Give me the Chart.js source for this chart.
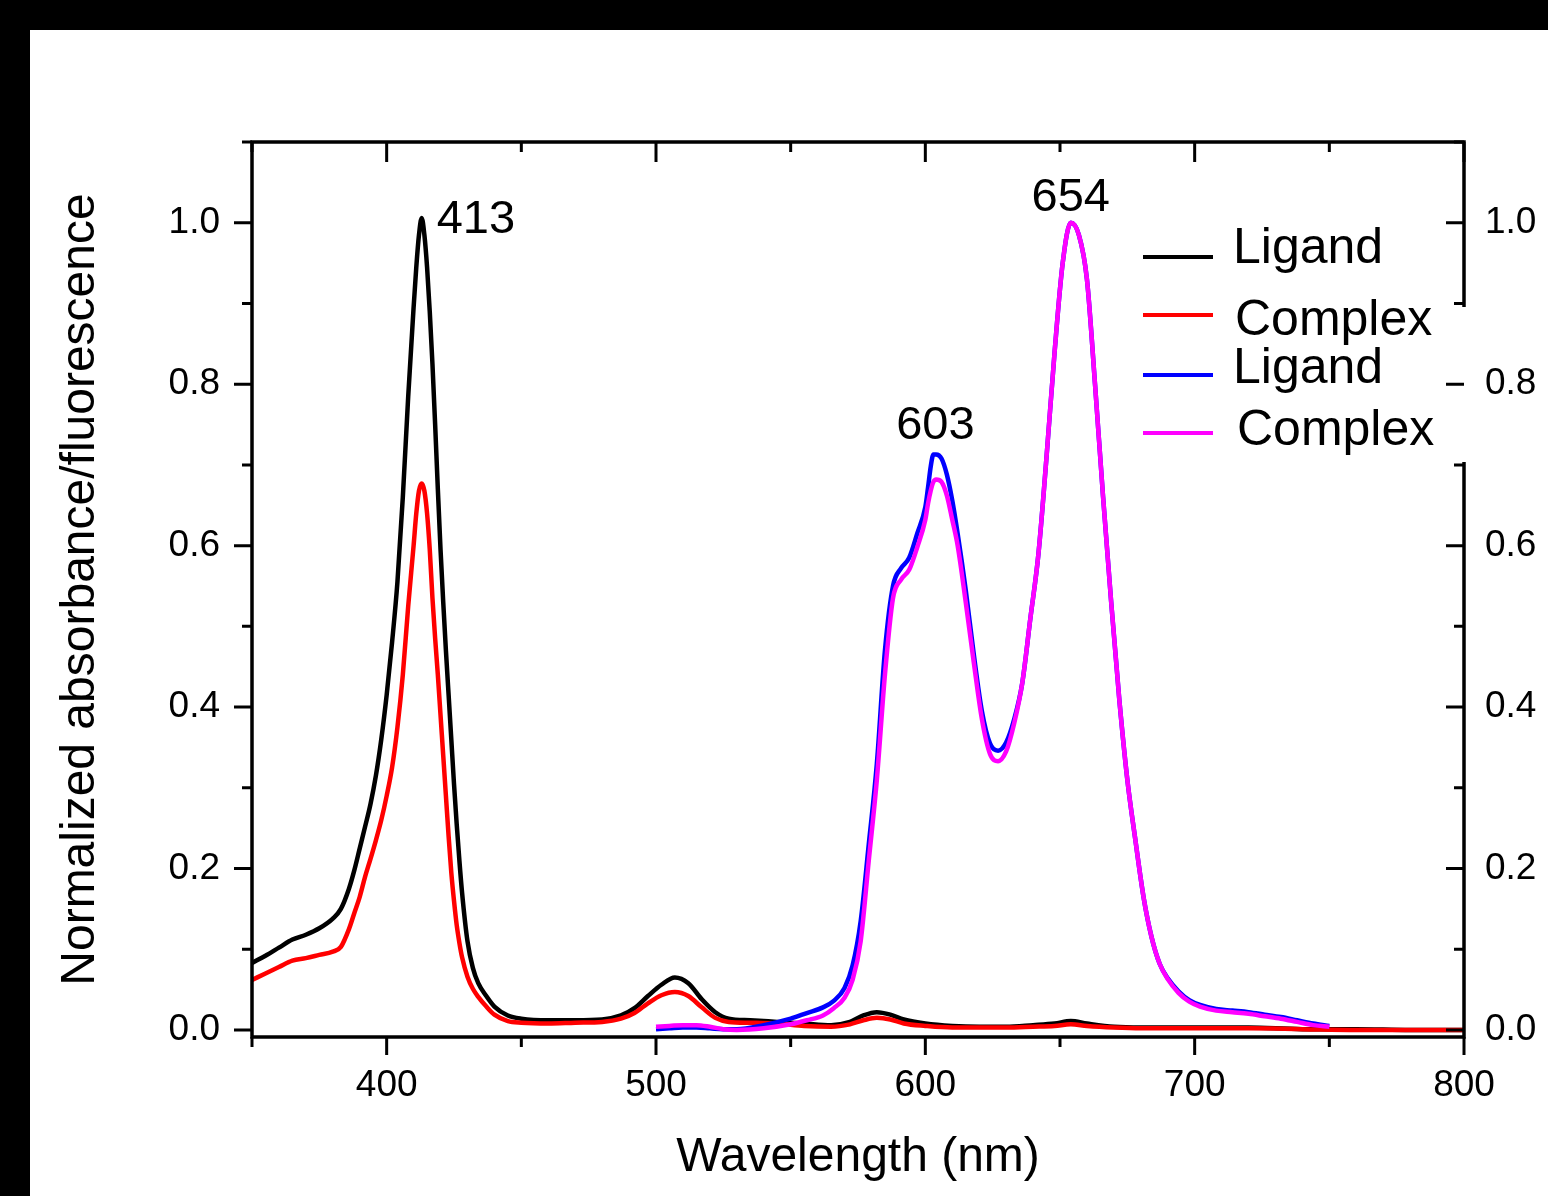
<!DOCTYPE html>
<html>
<head>
<meta charset="utf-8">
<title>Normalized absorbance / fluorescence</title>
<script src="https://cdn.jsdelivr.net/npm/chart.js@4.4.1/dist/chart.umd.min.js"></script>
<style>
  html, body { margin: 0; padding: 0; background: #000; }
  #wrap { position: absolute; left: 30px; top: 30px; width: 1518px; height: 1166px; background: #fff; }
  canvas { display: block; }
</style>
</head>
<body>
<div id="wrap"><canvas id="spectra" width="1518" height="1166"></canvas></div>
<script>
// Absorbance spectra (nm)
const absNm = [350, 355, 360, 365, 370, 375, 380, 383, 386, 388, 390, 392, 394, 396, 398, 400, 402, 404, 406, 408,
  410, 411, 412, 413, 414, 415, 416, 417, 418, 419, 420, 421, 422, 423, 424, 425, 426, 427, 428, 430,
  432, 434, 437, 440, 445, 450, 460, 470, 480, 487, 492, 497, 502, 507, 512, 517, 522, 527, 535, 545,
  555, 565, 572, 577, 582, 587, 592, 600, 610, 620, 630, 640, 648, 654, 660, 670, 680, 700, 720, 740,
  760, 780, 800];
const ligandAbs = [0.083, 0.092, 0.102, 0.112, 0.118, 0.126, 0.138, 0.150, 0.175, 0.198, 0.225, 0.252, 0.28, 0.315, 0.36, 0.415, 0.48, 0.555, 0.66, 0.785,
  0.895, 0.945, 0.985, 1.006, 0.985, 0.945, 0.89, 0.825, 0.75, 0.67, 0.595, 0.53, 0.47, 0.415, 0.36, 0.305, 0.255, 0.21, 0.17, 0.11,
  0.077, 0.058, 0.042, 0.029, 0.018, 0.014, 0.012, 0.012, 0.013, 0.018, 0.027, 0.042, 0.056, 0.065, 0.058, 0.038, 0.022, 0.014, 0.012, 0.010,
  0.008, 0.006, 0.010, 0.018, 0.022, 0.019, 0.013, 0.008, 0.005, 0.004, 0.004, 0.006, 0.008, 0.011, 0.008, 0.004, 0.003, 0.003, 0.003, 0.001,
  0.001, 0.0, 0.0];
const complexAbs = [0.062, 0.070, 0.078, 0.086, 0.089, 0.093, 0.097, 0.103, 0.125, 0.145, 0.165, 0.19, 0.212, 0.235, 0.26, 0.29, 0.325, 0.375, 0.44, 0.525,
  0.60, 0.64, 0.668, 0.677, 0.668, 0.64, 0.595, 0.535, 0.485, 0.44, 0.39, 0.34, 0.29, 0.24, 0.195, 0.16, 0.13, 0.108, 0.09, 0.066,
  0.051, 0.041, 0.029, 0.019, 0.011, 0.009, 0.008, 0.009, 0.010, 0.014, 0.021, 0.033, 0.043, 0.047, 0.042, 0.028, 0.015, 0.010, 0.009, 0.008,
  0.005, 0.004, 0.007, 0.012, 0.015, 0.013, 0.008, 0.005, 0.003, 0.003, 0.003, 0.004, 0.005, 0.007, 0.005, 0.003, 0.002, 0.002, 0.002, 0.001,
  0.0, 0.0, 0.0];

// Fluorescence spectra (nm)
const emNm = [500, 505, 510, 515, 520, 525, 530, 540, 550, 556, 562, 566, 570, 573, 576, 579, 582, 585, 588, 591,
  594, 597, 600, 601, 602, 603, 604, 606, 608, 610, 612, 615, 618, 621, 624, 627, 630, 633, 636, 639,
  642, 645, 648, 651, 654, 657, 660, 663, 666, 669, 672, 675, 678, 681, 684, 687, 690, 694, 698, 702,
  708, 714, 720, 726, 732, 738, 744, 750];
const ligandEm = [0.001, 0.002, 0.003, 0.003, 0.002, 0.001, 0.001, 0.006, 0.014, 0.021, 0.028, 0.036, 0.052, 0.08, 0.135, 0.23, 0.33, 0.47, 0.55, 0.572,
  0.585, 0.615, 0.648, 0.672, 0.698, 0.713, 0.713, 0.708, 0.688, 0.656, 0.615, 0.545, 0.465, 0.395, 0.355, 0.346, 0.356, 0.385, 0.43, 0.51,
  0.59, 0.71, 0.84, 0.95, 1.0, 0.985, 0.93, 0.80, 0.66, 0.53, 0.41, 0.31, 0.235, 0.165, 0.115, 0.082, 0.064, 0.048, 0.037, 0.031,
  0.026, 0.024, 0.022, 0.019, 0.016, 0.012, 0.008, 0.005];
const complexEm = [0.004, 0.005, 0.006, 0.006, 0.004, 0.001, 0.0, 0.002, 0.007, 0.012, 0.018, 0.027, 0.040, 0.062, 0.11, 0.21, 0.31, 0.44, 0.535, 0.558,
  0.570, 0.598, 0.632, 0.652, 0.668, 0.679, 0.682, 0.679, 0.662, 0.632, 0.60, 0.53, 0.455, 0.385, 0.342, 0.333, 0.345, 0.38, 0.43, 0.51,
  0.59, 0.71, 0.84, 0.95, 1.0, 0.985, 0.93, 0.80, 0.66, 0.53, 0.41, 0.31, 0.235, 0.165, 0.115, 0.082, 0.063, 0.046, 0.035, 0.029,
  0.024, 0.022, 0.020, 0.017, 0.014, 0.010, 0.006, 0.004];

const seriesLabels = ['Ligand', 'Complex', 'Ligand', 'Complex'];
const seriesColors = ['#000000', '#ff0000', '#0000ff', '#ff00ff'];
const xTicks = [400, 500, 600, 700, 800];
const yTicks = [0.0, 0.2, 0.4, 0.6, 0.8, 1.0];
const peakNm = [413, 603, 654];

const FONT = "'Liberation Sans', Arial, sans-serif";

const toPoints = (xs, ys) => xs.map((x, i) => ({ x: x, y: ys[i] }));

const series = [
  toPoints(absNm, ligandAbs),
  toPoints(absNm, complexAbs),
  toPoints(emNm, ligandEm),
  toPoints(emNm, complexEm)
];

// peak labels: which curve each one sits on, and text offset in px
const peakPlacement = [
  { ds: 0, dx: 15, dy: 15, align: 'left' },
  { ds: 2, dx: 2, dy: -15, align: 'center' },
  { ds: 3, dx: 0, dy: -12, align: 'center' }
];

const frameAndNotes = {
  id: 'frameAndNotes',
  afterDraw(chart) {
    const { ctx, chartArea: a, scales } = chart;
    const x = scales.x, y = scales.y;
    ctx.save();
    ctx.strokeStyle = '#000';
    ctx.lineWidth = 3.5;
    ctx.strokeRect(a.left, a.top, a.right - a.left, a.bottom - a.top);

    // legend background hides part of the right frame
    ctx.fillStyle = '#fff';
    ctx.fillRect(1108, 277, 332, 155);

    // tick marks: left/bottom outward, top/right inward
    ctx.lineWidth = 3;
    ctx.beginPath();
    for (let v = 350; v <= 800; v += 50) {
      const px = x.getPixelForValue(v);
      const major = v % 100 === 0;
      ctx.moveTo(px, a.bottom);
      ctx.lineTo(px, a.bottom + (major ? 18 : 10));
      ctx.moveTo(px, a.top);
      ctx.lineTo(px, a.top + (major ? 20 : 10));
    }
    for (let i = 0; i <= 11; i++) {
      const py = y.getPixelForValue(i / 10);
      const major = i % 2 === 0;
      ctx.moveTo(a.left - (major ? 18 : 10), py);
      ctx.lineTo(a.left, py);
      ctx.moveTo(a.right - (major ? 18 : 10), py);
      ctx.lineTo(a.right, py);
    }
    ctx.stroke();

    // legend
    const lineY = [227, 285, 345, 403];
    const textY = [233, 305, 353, 415];
    const textX = [1203, 1205, 1203, 1207];
    ctx.font = '50px ' + FONT;
    ctx.textAlign = 'left';
    ctx.textBaseline = 'alphabetic';
    chart.data.datasets.forEach((ds, i) => {
      ctx.strokeStyle = ds.borderColor;
      ctx.lineWidth = 4;
      ctx.beginPath();
      ctx.moveTo(1113, lineY[i]);
      ctx.lineTo(1183, lineY[i]);
      ctx.stroke();
      ctx.fillStyle = '#000';
      ctx.fillText(ds.label, textX[i], textY[i]);
    });

    // peak wavelengths
    ctx.font = '47px ' + FONT;
    ctx.fillStyle = '#000';
    peakNm.forEach((nm, i) => {
      const p = peakPlacement[i];
      const pt = chart.data.datasets[p.ds].data.find(d => d.x === nm);
      ctx.textAlign = p.align;
      ctx.fillText(String(nm), x.getPixelForValue(nm) + p.dx, y.getPixelForValue(pt.y) + p.dy);
    });
    ctx.restore();
  }
};

const tickFont = { family: FONT, size: 37 };
const titleFont = { family: FONT, size: 48 };

new Chart(document.getElementById('spectra'), {
  type: 'line',
  data: {
    datasets: series.map((pts, i) => ({
      label: seriesLabels[i],
      data: pts,
      borderColor: seriesColors[i],
      backgroundColor: seriesColors[i],
      borderWidth: 4.5,
      pointRadius: 0,
      fill: false,
      cubicInterpolationMode: 'monotone',
      order: 3 - i
    }))
  },
  options: {
    responsive: false,
    animation: false,
    events: [],
    layout: { padding: { top: 112, left: 0, right: 0, bottom: 0 } },
    plugins: { legend: { display: false }, tooltip: { enabled: false } },
    scales: {
      x: {
        type: 'linear',
        position: 'bottom',
        min: 350,
        max: 800,
        afterFit: s => { s.height = 159; },
        afterBuildTicks: s => { s.ticks = xTicks.map(v => ({ value: v })); },
        grid: { display: false, drawTicks: false },
        border: { display: false },
        ticks: { padding: 27, font: tickFont, color: '#000', maxRotation: 0, autoSkip: false, callback: v => String(v) },
        title: { display: true, text: 'Wavelength (nm)', font: titleFont, color: '#000', padding: { top: 0, bottom: 9 } }
      },
      y: {
        type: 'linear',
        position: 'left',
        min: -0.0087,
        max: 1.1,
        afterFit: s => { s.width = 222; },
        afterBuildTicks: s => { s.ticks = yTicks.map(v => ({ value: v })); },
        grid: { display: false, drawTicks: false },
        border: { display: false },
        ticks: { padding: 32, font: tickFont, color: '#000', callback: v => v.toFixed(1) },
        title: { display: true, text: 'Normalized absorbance/fluorescence', font: titleFont, color: '#000', padding: { top: 22, bottom: 0 } }
      },
      y2: {
        type: 'linear',
        position: 'right',
        min: -0.0087,
        max: 1.1,
        afterFit: s => { s.width = 84; },
        afterBuildTicks: s => { s.ticks = yTicks.map(v => ({ value: v })); },
        grid: { display: false, drawTicks: false },
        border: { display: false },
        ticks: { padding: 21, font: tickFont, color: '#000', callback: v => v.toFixed(1) }
      }
    }
  },
  plugins: [frameAndNotes]
});
</script>
</body>
</html>
